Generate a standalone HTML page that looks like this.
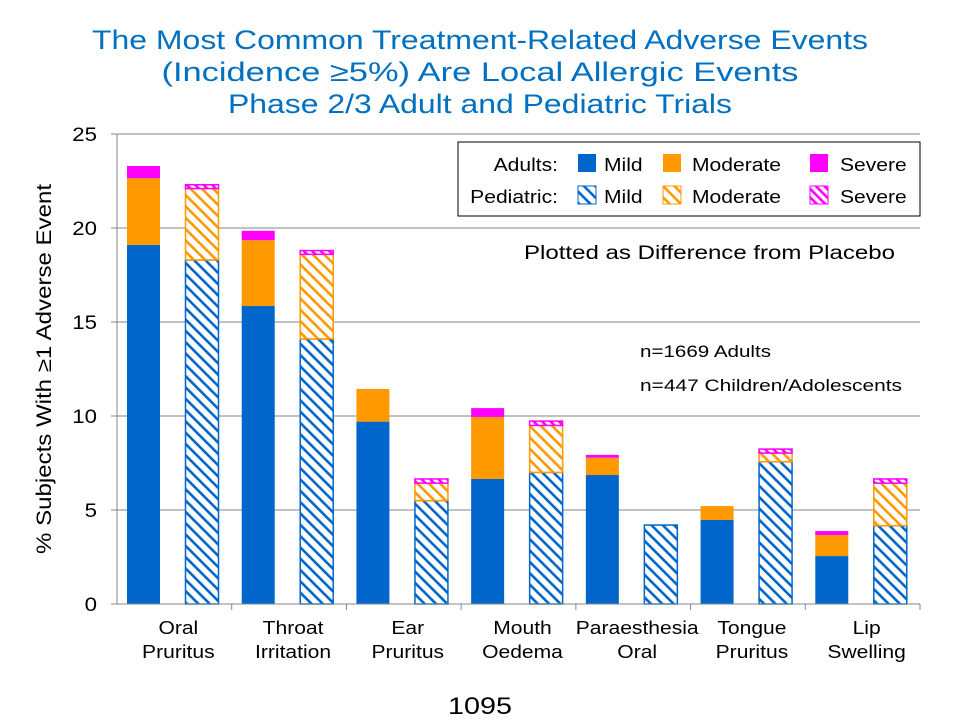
<!DOCTYPE html>
<html><head><meta charset="utf-8"><style>
body{margin:0;background:#fff;font-family:"Liberation Sans",Arial,sans-serif}
svg text{font-family:"Liberation Sans",Arial,sans-serif}
</style></head><body>
<svg id="c" width="960" height="720" xmlns="http://www.w3.org/2000/svg">
<defs>
<pattern id="hb" width="8" height="8" patternUnits="userSpaceOnUse" patternTransform="rotate(-45)"><rect width="8" height="8" fill="#fff"/><rect width="2.6" height="8" fill="#0066CC"/></pattern>
<pattern id="ho" width="8" height="8" patternUnits="userSpaceOnUse" patternTransform="rotate(-45)"><rect width="8" height="8" fill="#fff"/><rect width="2.6" height="8" fill="#FF9900"/></pattern>
<pattern id="hm" width="6" height="6" patternUnits="userSpaceOnUse" patternTransform="rotate(-45)"><rect width="6" height="6" fill="#fff"/><rect width="2.6" height="6" fill="#FF00FF"/></pattern>
</defs>
<g fill="#0070C0" font-size="27" text-anchor="middle">
<text x="480" y="49" textLength="776" lengthAdjust="spacingAndGlyphs">The Most Common Treatment-Related Adverse Events</text>
<text x="480" y="81" textLength="637" lengthAdjust="spacingAndGlyphs">(Incidence ≥5%) Are Local Allergic Events</text>
<text x="480" y="113" textLength="504" lengthAdjust="spacingAndGlyphs">Phase 2/3 Adult and Pediatric Trials</text>
</g>
<g id="grid"></g>
<g id="bars"></g>
<g id="axes"></g>
<text transform="translate(51,369) rotate(-90)" text-anchor="middle" font-size="21" textLength="370" lengthAdjust="spacingAndGlyphs">% Subjects With ≥1 Adverse Event</text>
<g>
<rect x="458" y="142" width="462" height="74" fill="#fff" stroke="#000" stroke-width="1"/>
<text class="w" x="558" y="171" text-anchor="end" font-size="18">Adults:</text>
<text class="w" x="558" y="203" text-anchor="end" font-size="18">Pediatric:</text>
<g><rect x="578" y="154" width="18" height="18" fill="#0066CC"/><text class="w" x="604" y="171" font-size="18">Mild</text></g>
<g><rect x="663" y="154" width="18" height="18" fill="#FF9900"/><text class="w" x="692" y="171" font-size="18">Moderate</text></g>
<g><rect x="810" y="154" width="18" height="18" fill="#FF00FF"/><text class="w" x="840" y="171" font-size="18">Severe</text></g>
<g><rect x="578" y="186" width="18" height="18" fill="url(#hb)" stroke="#0066CC"/><text class="w" x="604" y="203" font-size="18">Mild</text></g>
<g><rect x="663" y="186" width="18" height="18" fill="url(#ho)" stroke="#FF9900"/><text class="w" x="692" y="203" font-size="18">Moderate</text></g>
<g><rect x="810" y="186" width="18" height="18" fill="url(#hm)" stroke="#FF00FF"/><text class="w" x="840" y="203" font-size="18">Severe</text></g>
</g>
<text x="524" y="259" font-size="19" textLength="371" lengthAdjust="spacingAndGlyphs">Plotted as Difference from Placebo</text>
<text x="640" y="357" font-size="17" textLength="131" lengthAdjust="spacingAndGlyphs">n=1669 Adults</text>
<text x="640" y="391" font-size="17" textLength="262" lengthAdjust="spacingAndGlyphs">n=447 Children/Adolescents</text>
<text x="480" y="714" text-anchor="middle" font-size="24" textLength="64" lengthAdjust="spacingAndGlyphs">1095</text>
</svg>
<script>
const categories=[["Oral","Pruritus"],["Throat","Irritation"],["Ear","Pruritus"],["Mouth","Oedema"],["Paraesthesia","Oral"],["Tongue","Pruritus"],["Lip","Swelling"]];
const adultMild=[19.1,15.85,9.7,6.65,6.86,4.47,2.55];
const adultModerate=[3.55,3.5,1.74,3.3,0.92,0.74,1.12];
const adultSevere=[0.65,0.5,0,0.47,0.15,0,0.21];
const pedMild=[18.3,14.1,5.5,7.0,4.2,7.57,4.17];
const pedModerate=[3.8,4.5,0.93,2.5,0,0.46,2.26];
const pedSevere=[0.2,0.2,0.22,0.23,0,0.21,0.22];
const yTicks=[0,5,10,15,20,25];
const NS="http://www.w3.org/2000/svg";
const X0=117,X1=920,Y0=604,Y1=134,YMAX=25;
const cw=(X1-X0)/categories.length,bw=33;
const y=v=>Y0-(v/YMAX)*(Y0-Y1);
function mk(p,tag,a){const e=document.createElementNS(NS,tag);for(const k in a)e.setAttribute(k,a[k]);p.appendChild(e);return e;}
const grid=document.getElementById('grid'),bars=document.getElementById('bars'),axes=document.getElementById('axes');
yTicks.forEach(t=>{
 if(t>0){const l=mk(grid,'line',{x1:X0,x2:X1,y1:y(t),y2:y(t),stroke:'#868686','stroke-width':1});
 
 }
 const tk=mk(axes,'line',{x1:X0-6,x2:X0,y1:y(t),y2:y(t),stroke:'#868686'});
 
 
 const tx=mk(axes,'text',{x:X0-20,y:y(t)+7,'text-anchor':'end','font-size':19,'class':'w'});
 tx.textContent=t;
 
 
});
const ya=mk(axes,'line',{x1:X0,x2:X0,y1:Y1,y2:Y0,stroke:'#868686'});


const xa=mk(axes,'line',{x1:X0,x2:X1,y1:Y0,y2:Y0,stroke:'#868686'});


function seg(cx,v0,v1,fill,stroke,name){
 if(v1<=0)return;
 const r=mk(bars,'rect',{x:cx-bw/2,y:y(v0+v1),width:bw,height:y(v0)-y(v0+v1),fill:fill});
 if(stroke){r.setAttribute('stroke',stroke);r.setAttribute('stroke-width',1.5);}
 
 
}
categories.forEach((c,i)=>{
 const xs=X0+i*cw;
 const tk=mk(axes,'line',{x1:xs+cw,x2:xs+cw,y1:Y0,y2:Y0+6,stroke:'#868686'});
 
 
 const ax=xs+26.5,px=xs+85;
 seg(ax,0,adultMild[i],'#0066CC',null,'bar-adult-mild');
 seg(ax,adultMild[i],adultModerate[i],'#FF9900',null,'bar-adult-moderate');
 seg(ax,adultMild[i]+adultModerate[i],adultSevere[i],'#FF00FF',null,'bar-adult-severe');
 seg(px,0,pedMild[i],'url(#hb)','#0066CC','bar-ped-mild');
 seg(px,pedMild[i],pedModerate[i],'url(#ho)','#FF9900','bar-ped-moderate');
 seg(px,pedMild[i]+pedModerate[i],pedSevere[i],'url(#hm)','#FF00FF','bar-ped-severe');
 c.forEach((ln,j)=>{
  const t=mk(axes,'text',{x:xs+cw/2+4,y:634+j*24,'text-anchor':'middle','font-size':18,'class':'w'});
  t.textContent=ln;
  
  
 });
});
document.querySelectorAll('text.w').forEach(t=>{
 const w=t.getComputedTextLength();
 t.setAttribute('textLength',(w*1.17).toFixed(1));
 t.setAttribute('lengthAdjust','spacingAndGlyphs');
});
</script>
</body></html>
